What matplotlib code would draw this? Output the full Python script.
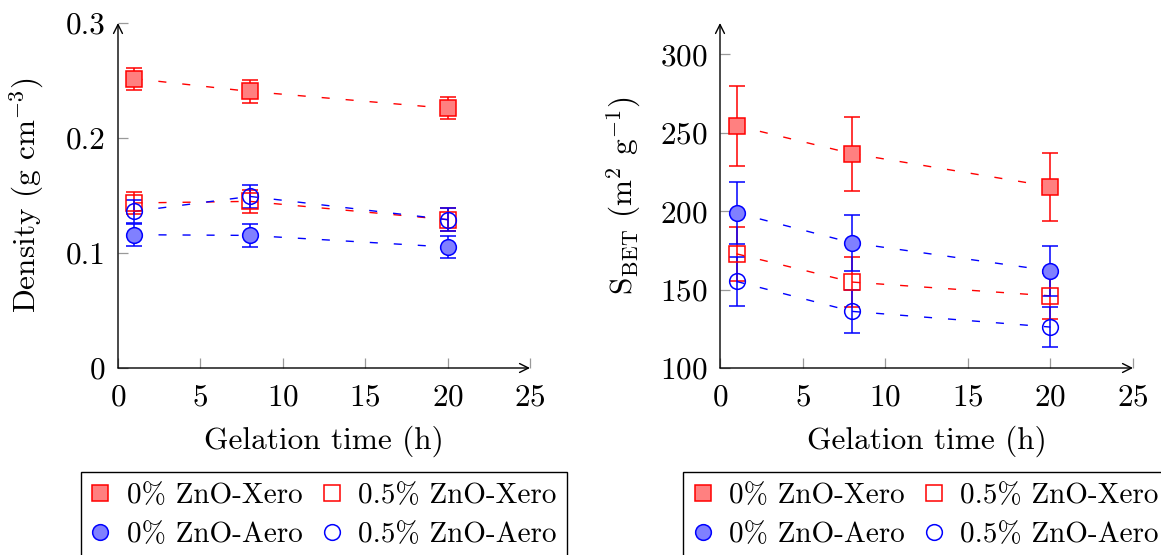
import matplotlib
matplotlib.use("Agg")
import matplotlib.pyplot as plt
from matplotlib.lines import Line2D

# ── data ──────────────────────────────────────────────────────────────────────

gel_time = [1, 8, 20]

dens_xero_0 = [0.2516, 0.2405, 0.2258]
dens_xero_05 = [0.1435, 0.1449, 0.1290]
dens_aero_0 = [0.1159, 0.1153, 0.1052]
dens_aero_05 = [0.1362, 0.1492, 0.1290]
dens_err = [0.0097, 0.0097, 0.0097]

bet_xero_0 = [254.5, 236.7, 215.7]
bet_xero_05 = [172.8, 154.8, 146.0]
bet_aero_0 = [198.9, 179.8, 162.0]
bet_aero_05 = [155.2, 136.1, 126.1]
bet_err_xero_0 = [25.5, 23.6, 21.7]
bet_err_xero_05 = [17.3, 15.7, 14.6]
bet_err_aero_0 = [19.8, 17.8, 16.0]
bet_err_aero_05 = [15.9, 13.8, 12.7]

labels = ["0% ZnO-Xero", "0.5% ZnO-Xero", "0% ZnO-Aero", "0.5% ZnO-Aero"]

RED, RED_FILL = "#ff0000", "#ff8080"
BLUE, BLUE_FILL = "#0000ff", "#8080ff"

plt.rcParams["font.family"] = "cmr10"
plt.rcParams["mathtext.fontset"] = "cm"
plt.rcParams["axes.formatter.use_mathtext"] = True
plt.rcParams["lines.scale_dashes"] = False

FS = 22.5
FS_LEG = 21

# (marker, edge color, face color) per series, same order as labels
styles = [("s", RED, RED_FILL), ("s", RED, "none"),
          ("o", BLUE, BLUE_FILL), ("o", BLUE, "none")]


def draw_series(ax, y, err, style, label):
    marker, ec, fc = style
    ax.errorbar(gel_time, y, yerr=err, fmt="none", ecolor=ec, elinewidth=1.1,
                capsize=5.6, capthick=1.1, zorder=2)
    # pgfplots restarts the dash pattern at every vertex
    for i in range(len(gel_time) - 1):
        ax.plot(gel_time[i:i + 2], y[i:i + 2], color=ec, lw=1.0,
                dashes=(5.8, 11.5), zorder=2)
    return ax.plot(gel_time, y, ls="none", marker=marker, ms=11.3,
                   mec=ec, mfc=fc, mew=1.1, zorder=3, label=label)[0]


def style_axis(ax, xlim, ylim, yticks):
    ax.set_xlim(*xlim)
    ax.set_ylim(*ylim)
    ax.set_xticks([0, 5, 10, 15, 20, 25])
    ax.set_yticks(yticks)
    for s in ax.spines.values():
        s.set_visible(False)
    arrow = dict(arrowstyle="->", color="black", lw=1.0,
                 shrinkA=0, shrinkB=0, mutation_scale=16)
    ax.annotate("", xy=(1, 0), xytext=(0, 0), xycoords="axes fraction",
                arrowprops=arrow, annotation_clip=False)
    ax.annotate("", xy=(0, 1), xytext=(0, 0), xycoords="axes fraction",
                arrowprops=arrow, annotation_clip=False)
    ax.tick_params(direction="in", length=7, width=0.9, color="#999999",
                   labelsize=FS)
    ax.tick_params(axis="x", pad=11)
    ax.tick_params(axis="y", pad=9)
    ax.set_xlabel("Gelation time (h)", fontsize=FS, labelpad=10)


fig = plt.figure(figsize=(11.61, 5.55), dpi=100)
ax1 = fig.add_axes([118 / 1161, 1 - 368 / 555, 412 / 1161, 345 / 555])
ax2 = fig.add_axes([720 / 1161, 1 - 368 / 555, 413 / 1161, 345 / 555])

# ── left: density ─────────────────────────────────────────────────────────────
dens_series = [dens_xero_0, dens_xero_05, dens_aero_0, dens_aero_05]
h1 = [draw_series(ax1, y, dens_err, st, lb)
      for y, st, lb in zip(dens_series, styles, labels)]
style_axis(ax1, (0, 25), (0, 0.3), [0, 0.1, 0.2, 0.3])
ax1.set_yticklabels(["0", "0.1", "0.2", "0.3"])
ax1.set_ylabel(r"Density (g cm$^{-3}$)", fontsize=FS, labelpad=14)

# ── right: BET surface area ───────────────────────────────────────────────────
bet_series = [bet_xero_0, bet_xero_05, bet_aero_0, bet_aero_05]
bet_errs = [bet_err_xero_0, bet_err_xero_05, bet_err_aero_0, bet_err_aero_05]
h2 = [draw_series(ax2, y, e, st, lb)
      for y, e, st, lb in zip(bet_series, bet_errs, styles, labels)]
style_axis(ax2, (0, 25), (100, 320), [100, 150, 200, 250, 300])
ax2.set_ylabel(r"S$_{\mathrm{BET}}$ (m$^{2}$ g$^{-1}$)", fontsize=FS, labelpad=12)

# ── legends below each panel ──────────────────────────────────────────────────
for ax, hs in ((ax1, h1), (ax2, h2)):
    handles = [Line2D([], [], ls="none", marker=h.get_marker(), ms=11.3,
                      mec=h.get_mec(), mfc=h.get_mfc(), mew=1.1) for h in hs]
    # ncol=2 fills column-wise: Xero/Aero pairs in each column
    handles = [handles[0], handles[2], handles[1], handles[3]]
    labs = [labels[0], labels[2], labels[1], labels[3]]
    pos = ax.get_position()
    leg = fig.legend(handles, labs, ncol=2, loc="upper center",
                     bbox_to_anchor=(pos.x0 + pos.width / 2, 1 - 472 / 555),
                     fontsize=FS_LEG, frameon=True, fancybox=False,
                     edgecolor="black", framealpha=1, borderpad=0.38,
                     borderaxespad=0, handletextpad=0.6, columnspacing=0.7,
                     labelspacing=0.42, handlelength=0.6)
    leg.get_frame().set_linewidth(1.0)

fig.savefig("out.png", dpi=100)
